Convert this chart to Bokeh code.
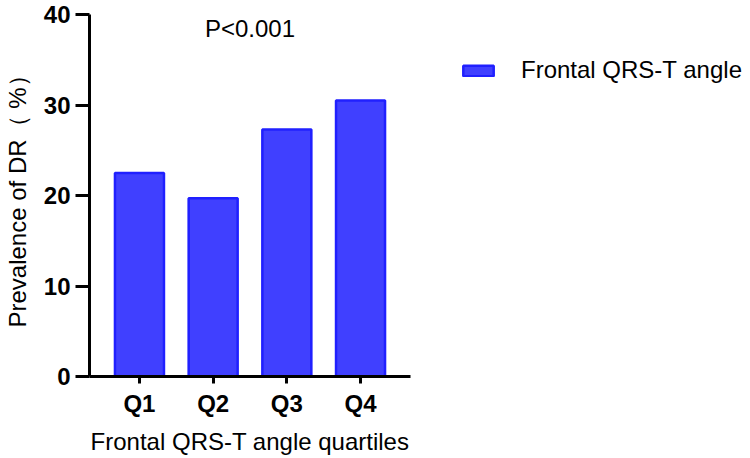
from bokeh.plotting import figure
from bokeh.layouts import row
from bokeh.models import FactorRange, Range1d, FixedTicker, Label, Legend, LegendItem, ColumnDataSource
from bokeh.embed import file_html
from bokeh.resources import INLINE

categories = ["Q1", "Q2", "Q3", "Q4"]
prevalence = [22.5, 19.7, 27.3, 30.5]
y_ticks = [0, 10, 20, 30, 40]
series_name = "Frontal QRS-T angle"
x_title = "Frontal QRS-T angle quartiles"
y_title = "Prevalence of DR\uff08 %\uff09"
p_text = "P<0.001"

FONT = "Liberation Sans"
BAR_STYLE = dict(fill_color="#4040ff", line_color="#2020ff", line_width=2.5)

p = figure(width=430, height=458, output_backend="svg", toolbar_location=None,
           x_range=FactorRange(factors=categories, range_padding=0.178,
                               range_padding_units="absolute"),
           y_range=Range1d(0, 40),
           min_border_left=89, min_border_top=14, min_border_right=20, min_border_bottom=82)

r = p.vbar(x=categories, top=prevalence, width=0.665, bottom=0, **BAR_STYLE)

p.xgrid.grid_line_color = None
p.ygrid.grid_line_color = None
p.outline_line_color = None

for ax in (p.xaxis[0], p.yaxis[0]):
    ax.axis_line_width = 3
    ax.axis_line_color = "black"
    ax.major_tick_line_width = 3
    ax.major_tick_line_color = "black"
    ax.major_tick_in = 0
    ax.minor_tick_line_color = None
    ax.major_label_text_font = FONT
    ax.major_label_text_font_style = "bold"
    ax.major_label_text_font_size = "24px"
    ax.major_label_text_color = "black"
    ax.axis_label_text_font = FONT
    ax.axis_label_text_font_style = "normal"
    ax.axis_label_text_color = "black"

p.yaxis.ticker = FixedTicker(ticks=y_ticks)
p.yaxis.major_tick_out = 14
p.yaxis.major_label_standoff = 5
p.yaxis.axis_label = y_title
p.yaxis.axis_label_text_font_size = "24px"
p.yaxis.axis_label_standoff = 10

p.xaxis.major_tick_out = 7
p.xaxis.major_label_standoff = 6
p.xaxis.axis_label = x_title
p.xaxis.axis_label_text_font_size = "24px"
p.xaxis.axis_label_standoff = 8

p.add_layout(Label(x=2.0, y=38.5, text=p_text, text_align="center",
                   text_baseline="alphabetic", text_font=FONT,
                   text_font_size="24px", text_color="black"))

# legend panel: a second figure (its frame is aligned with the chart's frame)
q = figure(width=320, height=458, output_backend="svg", toolbar_location=None,
           x_range=Range1d(0, 1), y_range=Range1d(0, 1),
           x_axis_type=None, y_axis_type=None,
           min_border_left=0, min_border_right=0, min_border_top=0, min_border_bottom=0)
q.grid.visible = False
q.outline_line_color = None
# legend proxy: one entry with no drawable height, styled like the bars
legend_src = ColumnDataSource(data=dict(x=[0.5], top=[float("nan")]))
r2 = q.vbar(x="x", top="top", width=0.5, source=legend_src, **BAR_STYLE)

legend = Legend(items=[LegendItem(label=series_name, renderers=[r2])],
                location=(29, 292), padding=0, margin=0,
                glyph_width=38, glyph_height=13, label_standoff=24,
                label_text_font=FONT, label_text_font_size="24px",
                label_text_color="black", border_line_alpha=0,
                background_fill_alpha=0)
q.add_layout(legend)

layout = row(p, q, spacing=0)
open("out.html", "w").write(file_html(layout, INLINE))
